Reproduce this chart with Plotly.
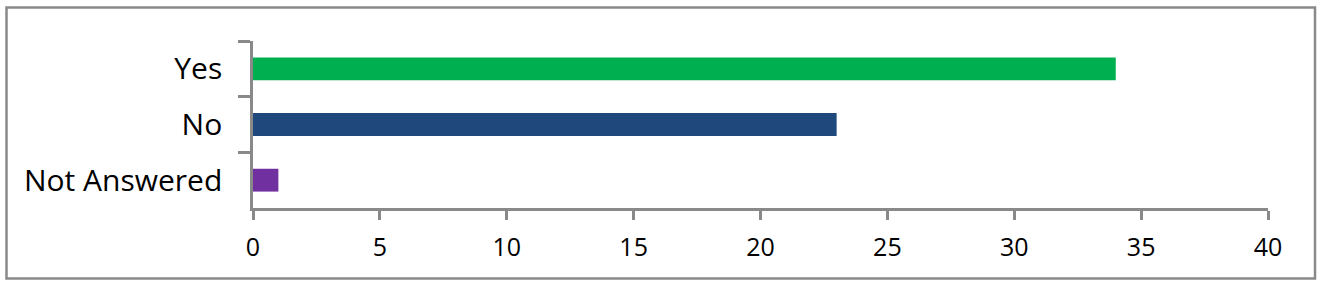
import plotly.graph_objects as go

categories = ["Yes", "No", "Not Answered"]
values = [34, 23, 1]
colors = ["#00B050", "#1F497D", "#7030A0"]
x_ticks = [0, 5, 10, 15, 20, 25, 30, 35, 40]

W, H = 1326, 290
L, R, T, B = 253, 58, 41, 82
pw, ph = W - L - R, H - T - B

fig = go.Figure(go.Bar(
    y=categories, x=values, orientation="h",
    marker=dict(color=colors, line=dict(width=0)),
    width=0.41,
))

axis_color = "#898989"
fig.update_layout(
    width=W, height=H,
    margin=dict(l=L, r=R, t=T, b=B),
    paper_bgcolor="white", plot_bgcolor="white",
    showlegend=False,
    font=dict(family="Open Sans", color="black"),
    xaxis=dict(
        range=[0, 40], tickvals=x_ticks, ticktext=[str(v) for v in x_ticks],
        showgrid=False, zeroline=False,
        showline=True, linecolor=axis_color, linewidth=2.5,
        ticks="outside", ticklen=9, tickwidth=2.5, tickcolor=axis_color,
        tickfont=dict(size=25, family="Open Sans", color="black"),
        ticklabelstandoff=6,
        fixedrange=True,
    ),
    yaxis=dict(
        categoryorder="array", categoryarray=categories, autorange="reversed",
        showgrid=False, zeroline=False,
        showline=True, linecolor=axis_color, linewidth=2.5,
        ticks="outside", tickson="boundaries", ticklen=12, tickwidth=2.5,
        tickcolor=axis_color,
        tickfont=dict(size=30, family="Open Sans", color="black"),
        ticklabelstandoff=22,
        fixedrange=True,
    ),
)

# figure border
bx0, bx1, by0, by1 = 6.5, 1315, 7.5, 278.5
fig.add_shape(
    type="rect", xref="paper", yref="paper",
    x0=(bx0 - L) / pw, x1=(bx1 - L) / pw,
    y0=(H - B - by1) / ph, y1=(H - B - by0) / ph,
    line=dict(color=axis_color, width=2.5), fillcolor="rgba(0,0,0,0)",
    layer="above",
)

fig.write_html("out.html")
